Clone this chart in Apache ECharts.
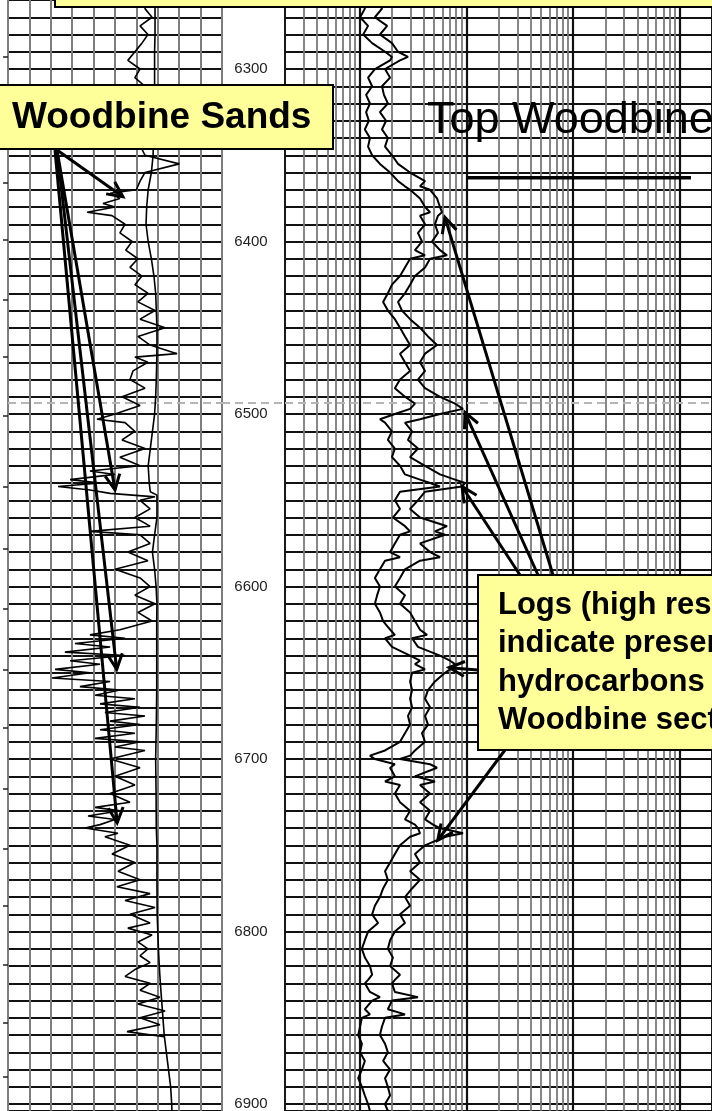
<!DOCTYPE html>
<html><head><meta charset="utf-8">
<script src="https://cdn.jsdelivr.net/npm/echarts@6/dist/echarts.min.js"></script>
<style>html,body{margin:0;padding:0;background:#fff;}#c{width:712px;height:1111px;}</style>
</head><body><div id="c"></div>
<script>
// Left track, spiky curve (divisions 0-10)
const grDepth = [
 6260,6265,6270,6275,6280,6285,6290,6295,6300,6305,
 6310,6315,6320,6325,6330,6335,6340,6345,6350,6355,
 6360,6365,6370,6372,6375,6378,6380,6383,6385,6390,
 6395,6400,6405,6410,6415,6420,6425,6430,6435,6440,
 6445,6450,6455,6460,6465,6467,6470,6475,6480,6485,
 6490,6495,6500,6503,6505,6510,6515,6520,6525,6530,
 6533,6535,6538,6540,6542,6544,6546,6548,6550,6555,
 6560,6565,6568,6570,6575,6580,6585,6590,6595,6600,
 6605,6610,6615,6620,6625,6628,6630,6633,6635,6638,
 6640,6643,6645,6648,6650,6653,6655,6658,6660,6663,
 6665,6668,6670,6673,6675,6678,6680,6683,6685,6688,
 6690,6693,6695,6700,6705,6710,6715,6720,6725,6728,
 6730,6733,6735,6738,6740,6743,6745,6750,6755,6760,
 6765,6770,6774,6778,6782,6786,6790,6795,6798,6802,
 6806,6810,6814,6818,6822,6826,6830,6834,6838,6842,
 6846,6850,6854,6858,6861];
const grVal = [
 6.64,6.4,6.73,6.17,6.54,6.26,5.93,5.6,6.17,5.93,
 6.4,6.1,6.5,6.2,6.6,6.3,6.5,6.2,6.4,8.0,
 6.4,6.17,6.0,4.77,5.23,4.44,5.0,3.7,4.86,5.47,
 5.23,5.8,5.5,6.07,5.7,6.26,5.93,6.54,6.07,6.87,
 6.17,7.34,6.07,6.64,7.9,5.93,6.54,5.84,5.7,6.4,
 5.33,6.17,5.0,4.16,5.47,5.93,5.33,6.4,5.23,6.17,
 3.83,5.0,2.9,4.3,2.34,3.83,4.77,6.87,6.17,6.64,
 5.93,6.64,3.83,6.17,6.64,5.6,6.54,5.0,6.17,6.64,
 5.93,6.87,6.07,6.73,5.23,3.83,5.47,3.13,4.77,2.66,
 5.47,2.9,4.3,2.2,3.83,2.06,4.77,3.36,5.23,4.07,
 5.93,4.3,6.17,4.53,6.4,4.77,6.17,4.3,5.93,4.07,
 6.17,5.0,6.4,4.77,6.17,5.0,5.93,4.77,5.7,4.07,
 5.23,3.74,5.0,4.3,3.6,5.14,4.53,5.7,4.86,5.93,
 5.14,6.17,5.09,6.64,5.47,6.87,5.7,6.64,5.6,6.73,
 6.07,6.54,6.17,6.64,5.93,5.47,6.64,6.17,7.1,6.07,
 7.34,6.17,7.1,5.56,7.3];
// Left track, smooth curve (divisions 0-10)
const spDepth = [
 6260,6270,6280,6290,6300,6310,6320,6330,6340,6350,
 6360,6370,6380,6390,6400,6410,6420,6430,6440,6450,
 6460,6470,6480,6490,6500,6510,6520,6530,6540,6545,
 6547,6560,6570,6580,6590,6600,6610,6620,6640,6660,
 6680,6700,6720,6740,6750,6770,6790,6800,6810,6820,
 6830,6840,6850,6860,6870,6880,6890,6900,6904];
const spVal = [
 6.87,6.87,6.87,6.85,6.85,6.85,6.85,6.8,6.8,6.78,
 6.7,6.55,6.48,6.45,6.55,6.7,6.82,6.9,6.93,6.96,
 6.96,6.95,6.93,6.9,6.85,6.75,6.65,6.55,6.6,6.65,
 6.96,6.96,6.85,6.75,6.85,6.92,6.96,6.95,6.95,6.95,
 6.93,6.9,6.92,6.93,6.96,6.96,6.97,7.0,7.03,7.07,
 7.12,7.18,7.24,7.3,7.4,7.5,7.6,7.65,7.66];
// Right track resistivity curves (ohm-m, log 0.2-2000)
const rDepth = [
 6260,6265,6270,6275,6280,6285,6290,6293,6295,6300,
 6305,6310,6315,6320,6325,6330,6335,6340,6345,6350,
 6355,6360,6365,6368,6370,6375,6380,6383,6385,6390,
 6395,6400,6405,6408,6410,6415,6420,6425,6430,6435,
 6440,6445,6450,6455,6460,6465,6470,6475,6480,6485,
 6490,6494,6497,6500,6503,6505,6510,6515,6520,6525,
 6530,6535,6538,6540,6542,6545,6550,6555,6560,6565,
 6568,6570,6575,6580,6583,6585,6590,6595,6600,6605,
 6610,6615,6620,6625,6628,6630,6635,6640,6643,6645,
 6648,6650,6655,6660,6665,6670,6675,6680,6685,6690,
 6695,6698,6700,6703,6705,6710,6713,6715,6720,6725,
 6730,6735,6738,6740,6743,6745,6750,6755,6760,6765,
 6770,6775,6780,6785,6790,6795,6800,6805,6810,6815,
 6820,6825,6828,6830,6835,6838,6840,6845,6848,6850,
 6855,6860,6865,6870,6875,6880,6885,6890,6895,6900,
 6904];
const rShallow = [
 1.05,1.12,1.01,1.20,1.08,1.31,1.73,2.01,1.93,1.39,
 1.20,1.31,1.15,1.25,1.15,1.22,1.12,1.25,1.20,1.31,
 1.55,1.93,2.29,2.66,2.97,3.68,4.10,4.57,3.68,4.10,
 3.52,3.84,3.30,4.10,2.97,2.66,2.39,2.01,1.84,1.66,
 1.84,2.14,2.39,2.66,2.97,2.39,2.66,2.97,2.39,2.14,
 2.66,3.30,2.97,2.14,1.55,1.73,2.01,1.84,2.14,2.01,
 2.39,2.66,3.68,4.57,5.66,2.39,2.14,2.39,2.05,2.66,
 2.97,2.39,2.14,1.93,2.39,1.73,1.55,1.39,1.55,1.46,
 1.39,1.55,1.66,1.93,2.14,1.73,2.01,2.97,3.68,3.30,
 4.10,3.10,2.97,3.10,2.97,3.10,2.84,2.97,2.66,2.39,
 1.73,1.25,1.39,2.14,1.93,2.14,1.73,2.39,2.14,2.39,
 2.97,2.66,3.30,3.52,3.68,2.97,2.39,2.14,1.93,1.73,
 1.84,1.66,1.55,1.39,1.31,1.49,1.20,1.12,1.05,1.12,
 1.25,1.31,1.20,1.12,1.25,1.55,1.31,1.12,1.25,1.05,
 1.01,0.97,1.05,1.01,1.12,1.05,0.97,1.05,1.12,1.20,
 1.25];
const rDeep = [
 1.49,1.62,1.39,1.81,1.55,2.01,2.29,2.84,2.39,1.73,
 1.93,1.62,1.69,1.84,1.55,1.77,1.62,1.84,1.73,2.01,
 2.29,2.97,4.10,3.68,4.57,5.31,5.66,5.91,5.42,5.08,
 5.42,4.77,5.66,6.59,4.57,4.10,3.30,2.97,2.66,2.29,
 2.49,2.97,3.68,4.37,5.31,4.10,3.68,4.10,3.52,4.10,
 5.66,7.83,9.30,5.66,3.68,2.66,3.10,2.84,3.52,2.97,
 4.10,5.66,7.83,9.71,9.10,4.10,3.52,2.97,3.68,6.59,
 5.08,6.31,3.68,4.57,5.66,3.68,2.66,2.39,2.14,2.66,
 2.39,2.97,3.30,3.68,4.28,3.10,3.52,5.66,7.03,7.83,
 7.03,6.31,5.08,4.37,4.10,4.57,4.10,4.37,3.84,4.10,
 3.30,2.97,2.39,4.57,5.31,3.30,5.08,3.68,4.57,3.68,
 4.57,4.10,4.87,5.66,9.30,6.31,4.10,3.30,3.68,2.97,
 3.68,3.10,2.66,2.97,2.39,2.66,2.14,1.93,1.84,2.05,
 1.93,2.39,2.14,2.01,2.14,3.52,2.01,1.84,2.66,1.73,
 1.62,1.55,1.73,1.84,1.66,1.93,1.73,1.84,1.93,1.73,
 1.84];
// Axis / grid values
const depthLabels = [6300,6400,6500,6600,6700,6800,6900];
const leftTicks = [6293,6366,6399,6434,6467,6501,6542,6578,6613,6648,6682,6717,6752,6785,6819,6853,6884];
const rGridMinor = [0.3,0.4,0.5,0.6,0.7,0.8,0.9,2,3,4,5,6,7,8,9,20,30,40,50,60,70,80,90,200,300,400,500,600,700,800,900];
const rGridMajor = [1,10,100,1000];
const scanLineDepth = 6493.6;
// Annotation targets [value, depth]
const sandTargets = [[5.37,6374],[5.0,6544],[5.08,6648],[5.1,6737]];
const logTargets = [[6.3,6386],[9.7,6499],[9.1,6542],[6.9,6647],[5.4,6747]];
const topWoodbine = {depth:6363, from:10, to:1270};

// ---------- CHART ----------
const FONT = '"Liberation Sans", Arial, Helvetica, sans-serif';
const chart = echarts.init(document.getElementById('c'), null, {renderer:'canvas', width:712, height:1111});
const dMin = 6260, dMax = 6904;
const zip = (ds, vs) => ds.map((d, i) => [vs[i], d]);
const yBase = {type:'value', inverse:true, min:dMin, max:dMax, interval:10,
  axisLine:{show:false}, axisTick:{show:false}, axisLabel:{show:false}};
const curve = (name, xi, data, w) => ({name, type:'line', xAxisIndex:xi, yAxisIndex:xi, data,
  showSymbol:false, symbol:'none', z:5, silent:true, lineStyle:{color:'#000', width:w}});
const dashed = {silent:true, symbol:['none','none'], label:{show:false}, animation:false,
  lineStyle:{color:'#b5b5b5', type:[8,5], width:2}, data:[{yAxis:scanLineDepth}]};

chart.setOption({
  animation:false,
  grid:[
    {left:8, top:0, width:214, height:1111, show:true, borderColor:'#1a1a1a', borderWidth:2, outerBoundsMode:'none'},
    {left:222, top:0, width:63, height:1111, outerBoundsMode:'none'},
    {left:285, top:0, width:427, height:1111, show:true, borderColor:'#1a1a1a', borderWidth:2, outerBoundsMode:'none'}
  ],
  xAxis:[
    {gridIndex:0, type:'value', min:0, max:10, interval:1, axisLine:{show:false}, axisTick:{show:false},
     axisLabel:{show:false}, splitLine:{show:true, lineStyle:{color:'#7d7d7d', width:2}}},
    {gridIndex:1, type:'value', min:0, max:1, show:false},
    {gridIndex:2, type:'log', logBase:10, min:0.2, max:2000, axisLine:{show:false}, axisTick:{show:false},
     axisLabel:{show:false}, splitLine:{show:false}}
  ],
  yAxis:[
    Object.assign({}, yBase, {gridIndex:0, splitLine:{show:true, lineStyle:{color:'#111', width:2}}}),
    Object.assign({}, yBase, {gridIndex:1, splitLine:{show:false},
      axisLabel:{show:true, inside:true, margin:29, align:'center', fontSize:15, fontFamily:FONT, color:'#222',
        customValues:depthLabels, formatter: v => (v % 100 === 0 ? String(v) : '')}}),
    Object.assign({}, yBase, {gridIndex:2, splitLine:{show:true, lineStyle:{color:'#111', width:2}}}),
    {gridIndex:0, type:'value', inverse:true, min:dMin, max:dMax, position:'left',
     axisLine:{show:false}, axisLabel:{show:false}, splitLine:{show:false},
     axisTick:{show:true, length:5, inside:false, customValues:leftTicks, lineStyle:{color:'#222', width:1.5}}}
  ],
  series:[
    {type:'line', xAxisIndex:2, yAxisIndex:2, data:[[1, dMin]], showSymbol:false, z:1, silent:true,
     lineStyle:{opacity:0},
     markLine:{silent:true, symbol:['none','none'], label:{show:false}, animation:false,
       lineStyle:{color:'#7a7a7a', width:1.8, type:'solid'},
       data: rGridMinor.map(v => ({xAxis:v}))
         .concat(rGridMajor.map(v => ({xAxis:v, lineStyle:{color:'#111', width:2.2, type:'solid'}})))
         .concat([{yAxis:scanLineDepth, lineStyle:{color:'#b5b5b5', type:[8,5], width:2}}])}},
    {type:'line', xAxisIndex:0, yAxisIndex:0, data:[[0, dMin]], showSymbol:false, z:1, silent:true,
     lineStyle:{opacity:0}, markLine:dashed},
    {type:'line', xAxisIndex:1, yAxisIndex:1, data:[[0.5, dMin]], showSymbol:false, z:1, silent:true,
     lineStyle:{opacity:0}, markLine:dashed},
    curve('smooth', 0, zip(spDepth, spVal), 1.6),
    curve('spiky', 0, zip(grDepth, grVal), 1.6),
    curve('shallow', 2, zip(rDepth, rShallow), 2),
    curve('deep', 2, zip(rDepth, rDeep), 2)
  ]
});

// ---------- ANNOTATIONS ----------
const P = (g, v, d) => chart.convertToPixel({gridIndex:g}, [v, d]);
function arrow(x1, y1, x2, y2, head, w) {
  head = head || 17; w = w || 3;
  const a = Math.atan2(y2 - y1, x2 - x1), sp = 0.45;
  const h1 = [x2 - head * Math.cos(a - sp), y2 - head * Math.sin(a - sp)];
  const h2 = [x2 - head * Math.cos(a + sp), y2 - head * Math.sin(a + sp)];
  return [
    {type:'line', z:110, shape:{x1, y1, x2, y2}, style:{stroke:'#000', lineWidth:w}},
    {type:'polyline', z:110, shape:{points:[h1, [x2, y2], h2]}, style:{stroke:'#000', lineWidth:w, fill:null}}
  ];
}
const g = [];
const yellow = '#FFFF99';
g.push({type:'rect', z:100, shape:{x:55, y:-50, width:720, height:57}, style:{fill:yellow, stroke:'#000', lineWidth:2}});
g.push({type:'rect', z:100, shape:{x:-3, y:85, width:336, height:64}, style:{fill:yellow, stroke:'#000', lineWidth:2}});
g.push({type:'text', z:101, style:{x:12, y:118, text:'Woodbine Sands', font:'bold 37px ' + FONT, fill:'#000', align:'left', verticalAlign:'middle'}});
g.push({type:'rect', z:100, shape:{x:478, y:575, width:300, height:175}, style:{fill:yellow, stroke:'#000', lineWidth:2}});
const logLines = ['Logs (high resistivity)', 'indicate presence of', 'hydrocarbons in', 'Woodbine section'];
logLines.forEach((t, i) => g.push({type:'text', z:101,
  style:{x:498, y:605 + i * 38.5, text:t, font:'bold 31px ' + FONT, fill:'#000', align:'left', verticalAlign:'middle'}}));
g.push({type:'text', z:101, style:{x:427, y:121, text:'Top Woodbine', font:'45px ' + FONT, fill:'#000', align:'left', verticalAlign:'middle'}});
const u1 = P(2, topWoodbine.from, topWoodbine.depth), u2 = P(2, topWoodbine.to, topWoodbine.depth);
g.push({type:'line', z:101, shape:{x1:u1[0], y1:u1[1], x2:u2[0], y2:u2[1]}, style:{stroke:'#000', lineWidth:3.5}});
const sandStarts = [[57,150],[57,150],[57,150],[55,150]];
sandTargets.forEach((t, i) => { const p = P(0, t[0], t[1]); g.push(...arrow(sandStarts[i][0], sandStarts[i][1], p[0], p[1])); });
const logStarts = [[553,575],[538,575],[520,575],[478,670],[505,750]];
logTargets.forEach((t, i) => { const p = P(2, t[0], t[1]); g.push(...arrow(logStarts[i][0], logStarts[i][1], p[0], p[1])); });
chart.setOption({graphic:{elements:g}});
</script>
</body></html>
